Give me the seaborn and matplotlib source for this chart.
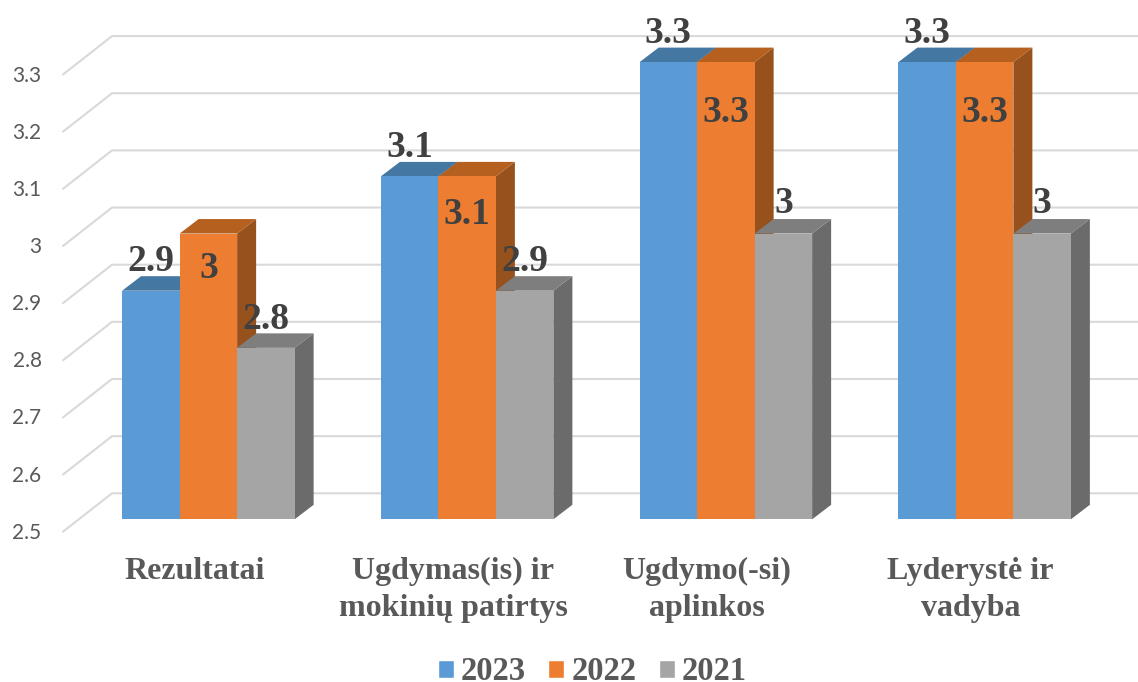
import pandas as pd
import seaborn as sns
import matplotlib.pyplot as plt
from matplotlib.patches import Polygon
from matplotlib.transforms import ScaledTranslation

# data
categories = ['Rezultatai', 'Ugdymas(is) ir\nmokinių patirtys', 'Ugdymo(-si)\naplinkos', 'Lyderystė ir\nvadyba']
years = ['2023', '2022', '2021']
values_2023 = [2.9, 3.1, 3.3, 3.3]
values_2022 = [3.0, 3.1, 3.3, 3.3]
values_2021 = [2.8, 2.9, 3.0, 3.0]
value_labels_2023 = ['2.9', '3.1', '3.3', '3.3']
value_labels_2022 = ['3', '3.1', '3.3', '3.3']
value_labels_2021 = ['2.8', '2.9', '3', '3']
y_ticks = [2.5, 2.6, 2.7, 2.8, 2.9, 3.0, 3.1, 3.2, 3.3]
y_tick_labels = ['2.5', '2.6', '2.7', '2.8', '2.9', '3', '3.1', '3.2', '3.3']

df = pd.DataFrame({
    'Category': categories * 3,
    'Year': [y for y in years for _ in categories],
    'Value': values_2023 + values_2022 + values_2021,
})

sns.set_theme(style='white')
fig = plt.figure(figsize=(11.38, 6.82), dpi=100)
ax = fig.add_axes([79 / 1138, (682 - 519.3) / 682, 1035 / 1138, 514.35 / 682])

colors = ['#5B9BD5', '#ED7D31', '#A5A5A5']
top_colors = ['#4577A3', '#B5601F', '#7E7E7E']
side_colors = ['#3F6D96', '#97511C', '#6B6B6B']

sns.barplot(data=df, x='Category', y='Value', hue='Year', hue_order=years,
            palette=colors, saturation=1, width=2 / 3, ax=ax)
ax.set_ylim(2.5, 3.4)
ax.set_xlim(-0.5, 3.5)

# pixel sizes in data units, the 3d look is built from these
px_x = 1 / 258.75
px_y = 0.1 / 57.15
depth_x = 19 * px_x
depth_y = 14.5 * px_y

# back wall lines
for v in y_ticks:
    ax.plot([-0.5 - 16 * px_x, -0.5 + 33 * px_x, 3.5 + 33 * px_x],
            [v - 12.4 * px_y, v + 26 * px_y, v + 26 * px_y],
            color='#D9D9D9', lw=1.5, clip_on=False, zorder=1)

# fake depth on every bar, bars start at 0 so cut them at the axis floor
floor = ax.get_ylim()[0]
for i, container in enumerate(ax.containers):
    for bar in container:
        x0 = bar.get_x()
        x1 = x0 + bar.get_width()
        y1 = bar.get_y() + bar.get_height()
        side = [(x1, floor), (x1, y1), (x1 + depth_x, y1 + depth_y), (x1 + depth_x, floor + depth_y)]
        top = [(x0, y1), (x1, y1), (x1 + depth_x, y1 + depth_y), (x0 + depth_x, y1 + depth_y)]
        ax.add_patch(Polygon(side, color=side_colors[i], lw=0, clip_on=False, zorder=2 + 2 * i))
        ax.add_patch(Polygon(top, color=top_colors[i], lw=0, clip_on=False, zorder=2 + 2 * i))
        bar.set_zorder(3 + 2 * i)
        bar.set_linewidth(0)

# value labels, centre offsets in pixels from the bar top
label_lists = [value_labels_2023, value_labels_2022, value_labels_2021]
label_dy = [[29, 29, 29, 29], [-35, -38, -50, -50], [28, 29, 30, 30]]
for i, container in enumerate(ax.containers):
    for j, bar in enumerate(container):
        ax.text(bar.get_x() + bar.get_width() / 2, bar.get_y() + bar.get_height() + label_dy[i][j] * px_y,
                label_lists[i][j], ha='center', va='center', color='#404040',
                family='Liberation Serif', fontweight='bold', fontsize=27, zorder=20, clip_on=False)

# axis text
ax.set_xlabel('')
ax.set_ylabel('')
ax.set_yticks(y_ticks)
ax.set_yticklabels(y_tick_labels, family='Lato', fontsize=15, color='#595959')
ax.tick_params(axis='y', length=0, pad=27)
ax.tick_params(axis='x', length=0, pad=27)
ax.set_xticks(range(4))
ax.set_xticklabels(categories, family='Liberation Serif', fontweight='bold', fontsize=23,
                   color='#595959', linespacing=1.36)
for lab in ax.get_yticklabels():
    lab.set_transform(lab.get_transform() + ScaledTranslation(0, -11.4 / 100, fig.dpi_scale_trans))
x_shift = [-14, -14, -19, -14]
for lab, s in zip(ax.get_xticklabels(), x_shift):
    lab.set_transform(lab.get_transform() + ScaledTranslation(s / 100, 0, fig.dpi_scale_trans))

sns.despine(ax=ax, left=True, bottom=True)

sns.move_legend(ax, 'center', bbox_to_anchor=(592.5 / 1138, (682 - 672) / 682),
                bbox_transform=fig.transFigure, ncol=3, frameon=False, title=None,
                prop={'family': 'Liberation Serif', 'weight': 'bold', 'size': 23.5},
                labelcolor='#595959', handlelength=0.49, handleheight=0.49,
                handletextpad=0.22, columnspacing=0.68, borderpad=0, borderaxespad=0)

fig.savefig('out.png', dpi=100)
